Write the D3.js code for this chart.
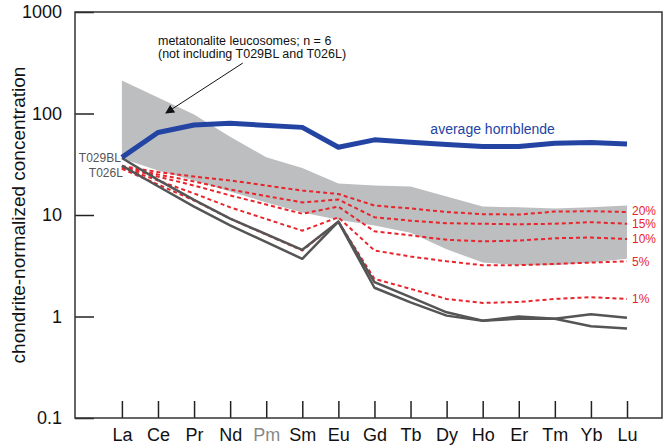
<!DOCTYPE html>
<html>
<head>
<meta charset="utf-8">
<script src="https://cdn.jsdelivr.net/npm/d3@7"></script>
<style>
  body { margin: 0; background: #fff; }
  svg { font-family: "Liberation Sans", Arial, Helvetica, sans-serif; }
  .frame { fill: none; stroke: #333; stroke-width: 1.5; }
  .axis path { display: none; }
  .axis line { stroke: #222; stroke-width: 1.5; }
  .axis text { font-size: 18px; fill: #111; }
  .band { fill: #bcbec0; }
  .hbl { fill: none; stroke: #2344a3; stroke-width: 5; stroke-linejoin: round; }
  .sample { fill: none; stroke: #555; stroke-width: 2.5; stroke-linejoin: round; }
  .model { fill: none; stroke: #e8242c; stroke-width: 2; stroke-dasharray: 4,3; }
  .pct { fill: #e8242c; font-size: 12px; }
</style>
</head>
<body>
<script>
//REE elements along the x axis
var elements = ["La", "Ce", "Pr", "Nd", "Pm", "Sm", "Eu", "Gd", "Tb", "Dy", "Ho", "Er", "Tm", "Yb", "Lu"];

//y axis tick values
var yTicks = [0.1, 1, 10, 100, 1000];

//average hornblende (Pm not measured)
var hornblende = [37, 65, 77, 80, null, 73, 46.5, 55, 52, 49.5, 47.3, 47.3, 51, 51.8, 50];

//leucosome samples plotted separately
var t029bl = [36.4, 22.2, 14.1, 9.2, null, 4.54, 8.6, 2.18, 1.55, 1.10, 0.91, 1.0, 0.95, 0.80, 0.76];
var t026l = [30.7, 19.2, 12.1, 7.9, null, 3.70, 8.6, 1.92, 1.38, 1.02, 0.91, 0.95, 0.95, 1.05, 0.97];

//range of the other metatonalite leucosomes (n = 6)
var bandUpper = [211, 144, 98, 59, 37, 29, 20.4, 19.5, 19.1, 15.2, 12.1, 11.9, 11.6, 11.9, 12.4];
var bandLower = [36, 27.4, 21.9, 17.0, 13.3, 10.6, 9.0, 7.9, 6.7, 4.6, 3.4, 3.2, 3.2, 3.4, 3.7];

//melt + hornblende mixing curves
var mixLabels = ["20%", "15%", "10%", "5%", "1%"];
var mix20 = [30.4, 26.5, 23.9, 21.9, null, 17.4, 16.1, 12.4, 11.6, 10.7, 10.2, 10.1, 10.8, 10.9, 10.7];
var mix15 = [30.1, 25.1, 21.4, 17.8, null, 13.3, 14.2, 9.5, 8.8, 8.3, 8.2, 8.1, 8.2, 8.5, 8.2];
var mix10 = [29.6, 23.9, 19.5, 15.6, null, 10.3, 12.1, 6.9, 6.3, 5.7, 5.5, 5.6, 5.9, 6.0, 5.8];
var mix5 = [29.2, 21.9, 16.3, 11.9, null, 7.0, 9.5, 4.47, 3.9, 3.5, 3.2, 3.2, 3.3, 3.4, 3.5];
var mix1 = [28.5, 20.0, 13.9, 9.2, null, 4.47, 8.6, 2.35, 1.87, 1.49, 1.36, 1.39, 1.49, 1.55, 1.49];
var mixes = [mix20, mix15, mix10, mix5, mix1];

var width = 663,
    height = 445;

//plot frame edges
var frameL = 75, frameR = 662, frameT = 12, frameB = 418;

var svg = d3.select("body")
    .append("svg")
    .attr("width", width)
    .attr("height", height);

//element index -> x
var x = d3.scaleLinear()
    .domain([-1.3, 14.97])
    .range([frameL, frameR]);

var y = d3.scaleLog()
    .domain([0.1, 1000])
    .range([frameB, frameT]);

//pair values with their element index, skipping Pm
function pts(vals){
  return vals.map(function(v, i){ return [i, v]; })
    .filter(function(p){ return p[1] != null; });
}

var line = d3.line()
    .x(function(p){ return x(p[0]); })
    .y(function(p){ return y(p[1]); });

//gray field
var area = d3.area()
    .x(function(d, i){ return x(i); })
    .y0(function(d, i){ return y(bandLower[i]); })
    .y1(function(d){ return y(d); });

svg.append("path")
    .datum(bandUpper)
    .attr("class", "band")
    .attr("d", area);

//mixing curves
svg.selectAll(".model")
    .data(mixes)
    .enter()
    .append("path")
    .attr("class", "model")
    .attr("d", function(d){ return line(pts(d)); });

svg.selectAll(".pct")
    .data(mixes)
    .enter()
    .append("text")
    .attr("class", "pct")
    .attr("x", x(14) + 5)
    .attr("y", function(d, i){ return y(d[14]) - (i == 0 ? 1 : 0); })
    .attr("dy", "0.36em")
    .text(function(d, i){ return mixLabels[i]; });

//samples
svg.selectAll(".sample")
    .data([t029bl, t026l])
    .enter()
    .append("path")
    .attr("class", "sample")
    .attr("d", function(d){ return line(pts(d)); });

svg.append("path")
    .datum(pts(hornblende))
    .attr("class", "hbl")
    .attr("d", line);

//axes
svg.append("g")
    .attr("class", "axis")
    .attr("transform", "translate(" + frameL + ",0)")
    .call(d3.axisLeft(y)
        .tickValues(yTicks)
        .tickSize(-19)
        .tickPadding(13)
        .tickFormat(function(d){ return String(d); }));

var xAxis = svg.append("g")
    .attr("class", "axis")
    .attr("transform", "translate(0," + frameB + ")")
    .call(d3.axisBottom(x)
        .tickValues(d3.range(elements.length))
        .tickSize(-17)
        .tickPadding(10)
        .tickFormat(function(d){ return elements[d]; }));

xAxis.selectAll("text")
    .style("fill", function(d){ return elements[d] == "Pm" ? "#888" : "#111"; });

svg.append("rect")
    .attr("class", "frame")
    .attr("x", frameL)
    .attr("y", frameT)
    .attr("width", frameR - frameL)
    .attr("height", frameB - frameT);

svg.append("text")
    .attr("transform", "translate(25," + ((frameT + frameB) / 2) + ") rotate(-90)")
    .attr("text-anchor", "middle")
    .style("font-size", "19px")
    .style("fill", "#111")
    .text("chondrite-normalized concentration");

//labels
svg.append("text")
    .attr("x", x(8.55))
    .attr("y", y(62.8))
    .style("font-size", "14px")
    .style("fill", "#2344a3")
    .text("average hornblende");

svg.append("text")
    .attr("x", x(0) - 1)
    .attr("y", y(t029bl[0]) + 4)
    .attr("text-anchor", "end")
    .style("font-size", "12px")
    .style("fill", "#555")
    .text("T029BL");

svg.append("text")
    .attr("x", x(0) + 1)
    .attr("y", y(t026l[0]) + 11)
    .attr("text-anchor", "end")
    .style("font-size", "12px")
    .style("fill", "#555")
    .text("T026L");

var note = svg.append("text")
    .attr("x", x(1))
    .attr("y", y(473))
    .style("font-size", "12.5px")
    .style("fill", "#111");
note.append("tspan")
    .text("metatonalite leucosomes; n = 6");
note.append("tspan")
    .attr("x", x(1))
    .attr("dy", "1.0em")
    .text("(not including T029BL and T026L)");

//arrow to the gray field
svg.append("defs").append("marker")
    .attr("id", "head")
    .attr("viewBox", "0 0 10 10")
    .attr("refX", 9)
    .attr("refY", 5)
    .attr("markerWidth", 9)
    .attr("markerHeight", 9)
    .attr("markerUnits", "userSpaceOnUse")
    .attr("orient", "auto")
    .append("path")
    .attr("d", "M0,0L10,5L0,10z")
    .attr("fill", "#111");

svg.append("line")
    .attr("x1", x(3.35))
    .attr("y1", y(314))
    .attr("x2", x(1.22))
    .attr("y2", y(101))
    .attr("stroke", "#111")
    .attr("stroke-width", 1)
    .attr("marker-end", "url(#head)");
</script>
</body>
</html>
